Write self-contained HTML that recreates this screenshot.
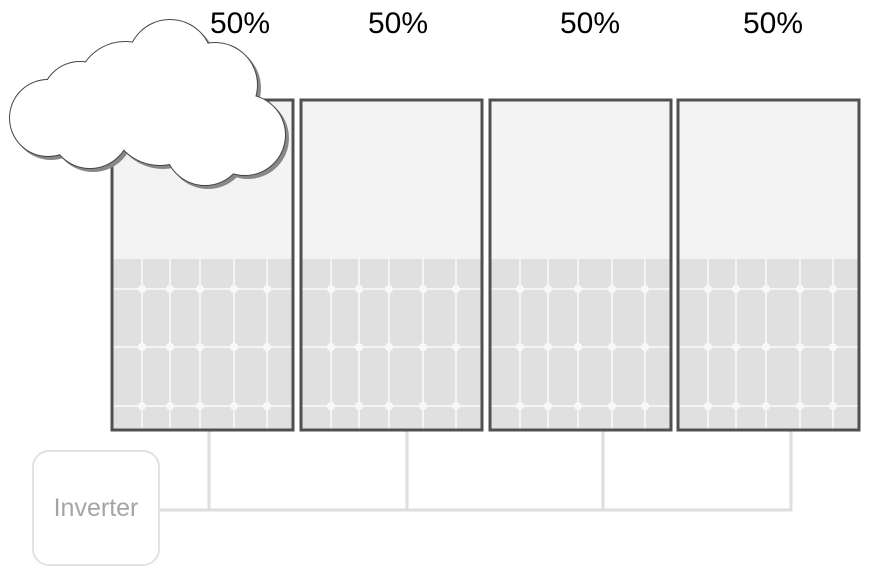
<!DOCTYPE html>
<html><head><meta charset="utf-8"><style>
html,body{margin:0;padding:0;background:#fff;width:870px;height:575px;overflow:hidden}
svg{display:block}
</style></head><body>
<svg width="870" height="575" viewBox="0 0 870 575" xmlns="http://www.w3.org/2000/svg">
<defs>
<g id="panel">
  <rect x="0" y="0" width="181" height="330" fill="#f3f3f3"/>
  <rect x="0" y="159" width="181" height="171" fill="#e1e0e1"/>
  <g stroke="#f4f4f4" stroke-width="2">
    <line x1="30" y1="159" x2="30" y2="330"/>
    <line x1="58" y1="159" x2="58" y2="330"/>
    <line x1="88" y1="159" x2="88" y2="330"/>
    <line x1="122" y1="159" x2="122" y2="330"/>
    <line x1="155" y1="159" x2="155" y2="330"/>
    <line x1="0" y1="189" x2="181" y2="189"/>
    <line x1="0" y1="247" x2="181" y2="247"/>
    <line x1="0" y1="306" x2="181" y2="306"/>
  </g>
  <g fill="#f8f8f8">
    <circle cx="30" cy="189" r="4"/><circle cx="58" cy="189" r="4"/><circle cx="88" cy="189" r="4"/><circle cx="122" cy="189" r="4"/><circle cx="155" cy="189" r="4"/>
    <circle cx="30" cy="247" r="4"/><circle cx="58" cy="247" r="4"/><circle cx="88" cy="247" r="4"/><circle cx="122" cy="247" r="4"/><circle cx="155" cy="247" r="4"/>
    <circle cx="30" cy="306" r="4"/><circle cx="58" cy="306" r="4"/><circle cx="88" cy="306" r="4"/><circle cx="122" cy="306" r="4"/><circle cx="155" cy="306" r="4"/>
  </g>
  <rect x="0" y="0" width="181" height="330" fill="none" stroke="#505050" stroke-width="3"/>
</g>
<g id="cl">
  <circle cx="48" cy="118" r="38"/>
  <circle cx="80" cy="100" r="38"/>
  <circle cx="125" cy="90" r="48"/>
  <circle cx="170" cy="62" r="42"/>
  <circle cx="215" cy="85" r="42"/>
  <circle cx="245" cy="135" r="40"/>
  <circle cx="205" cy="145" r="40"/>
  <circle cx="90" cy="128" r="40"/>
  <circle cx="160" cy="115" r="50"/>
</g>
</defs>

<g stroke="#dedede" stroke-width="3" fill="none">
  <line x1="209" y1="430" x2="209" y2="510"/>
  <line x1="407" y1="430" x2="407" y2="510"/>
  <line x1="603" y1="430" x2="603" y2="510"/>
  <line x1="791" y1="430" x2="791" y2="511"/>
  <line x1="159" y1="510" x2="792" y2="510"/>
</g>
<rect x="33" y="451" width="126" height="114" rx="16" fill="#fff" stroke="#e2e2e2" stroke-width="2"/>
<text x="96" y="516" text-anchor="middle" font-family="Liberation Sans, sans-serif" font-size="25" fill="#a5a5a5">Inverter</text>

<use href="#panel" x="112" y="100"/>
<use href="#panel" x="301" y="100"/>
<use href="#panel" x="490" y="100"/>
<use href="#panel" x="678" y="100"/>

<g font-family="Liberation Sans, sans-serif" font-size="30" fill="#000" text-anchor="middle">
  <text x="240" y="33">50%</text>
  <text x="398" y="33">50%</text>
  <text x="590" y="33">50%</text>
  <text x="773" y="33">50%</text>
</g>

<use href="#cl" x="3" y="3" fill="#888" stroke="#888" stroke-width="2"/>
<use href="#cl" fill="#444" stroke="#444" stroke-width="2"/>
<use href="#cl" fill="#fff"/>
</svg>
</body></html>
